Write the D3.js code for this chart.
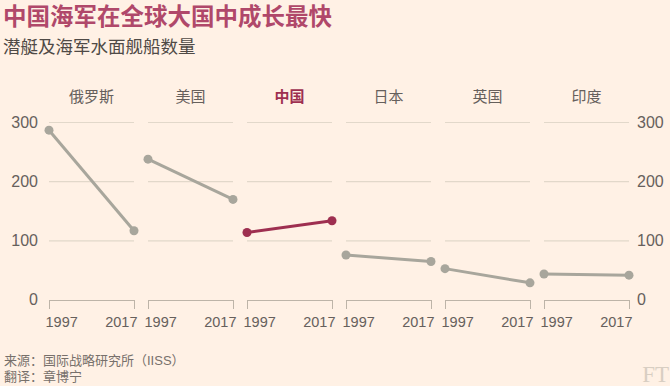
<!DOCTYPE html>
<html><head><meta charset="utf-8">
<script src="https://cdn.jsdelivr.net/npm/d3@7"></script>
<style>
html,body{margin:0;padding:0;background:#fff1e5;}
text{font-family:"Liberation Sans","Noto Sans CJK SC",sans-serif;}
</style></head>
<body><svg id="c" width="670" height="386"></svg>
<script>
const countries = ["俄罗斯","美国","中国","日本","英国","印度"];
const years = [1997, 2017];
const values1997 = [287, 238, 114, 76, 53, 44];
const values2017 = [117, 170, 134, 65, 29, 42];
const yTicks = [0, 100, 200, 300];
const highlight = "中国";

const bg = "#fff1e5", grey = "#a8a69c", red = "#9e2f50", txt = "#66605c";
const svg = d3.select("#c");
svg.append("rect").attr("width",670).attr("height",386).attr("fill",bg);

svg.append("text").attr("x",3).attr("y",25).attr("font-size",23.5).attr("font-weight","bold")
  .attr("fill","#b0486a").text("中国海军在全球大国中成长最快");
svg.append("text").attr("x",3).attr("y",53).attr("font-size",17.5).attr("fill","#4f4a46")
  .text("潜艇及海军水面舰船数量");

const xBand = d3.scaleBand().domain(countries).range([49,629]).paddingInner(14/99).paddingOuter(0);
const xIn = d3.scalePoint().domain(years).range([0, xBand.bandwidth()]);
const y = d3.scaleLinear().domain([0,300]).range([300,122.5]);

// y axis labels
const left = svg.append("g").attr("transform","translate(38,0)")
  .call(d3.axisLeft(y).tickValues(yTicks).tickSize(0).tickPadding(0));
const right = svg.append("g").attr("transform","translate(637,0)")
  .call(d3.axisRight(y).tickValues(yTicks).tickSize(0).tickPadding(0));
[left,right].forEach(g=>{
  g.select(".domain").remove();
  g.selectAll("text").attr("font-size",16).attr("fill",txt).attr("dy","0.3em");
});

countries.forEach((c,i)=>{
  const g = svg.append("g").attr("transform",`translate(${xBand(c)},0)`);
  const w = xBand.bandwidth();
  const isH = c===highlight;
  // gridlines
  g.selectAll("line.grid").data(yTicks.filter(t=>t>0)).enter().append("line")
    .attr("x1",0).attr("x2",w).attr("y1",d=>y(d)).attr("y2",d=>y(d))
    .attr("stroke","#e2d8ca").attr("stroke-width",1.2);
  // bottom axis bracket
  const ax = g.append("g").attr("transform",`translate(0,${y(0)})`)
    .call(d3.axisBottom(xIn).tickSize(10).tickSizeOuter(0).tickPadding(4));
  ax.select(".domain").attr("stroke","#bdb4a8");
  ax.selectAll(".tick line").attr("stroke","#bdb4a8").attr("y1",0).attr("y2",9);
  ax.selectAll(".tick text").attr("font-size",14.5).attr("fill",txt)
    .attr("text-anchor",(d,j)=>j===0?"start":"end")
    .attr("dx",(d,j)=>j===0?-4:3).attr("y",17).attr("dy","0.71em");
  // title
  g.append("text").attr("x",w/2).attr("y",102).attr("text-anchor","middle")
    .attr("font-size",15).attr("font-weight",isH?"bold":"normal")
    .attr("fill",isH?red:txt).text(c);
  // line + dots
  const pts = [[1997,values1997[i]],[2017,values2017[i]]];
  const col = isH?red:grey;
  g.append("path").datum(pts).attr("fill","none").attr("stroke",col).attr("stroke-width",3)
    .attr("d",d3.line().x(d=>xIn(d[0])).y(d=>y(d[1])));
  g.selectAll("circle").data(pts).enter().append("circle")
    .attr("cx",d=>xIn(d[0])).attr("cy",d=>y(d[1])).attr("r",4.5).attr("fill",col);
});

svg.append("text").attr("x",4).attr("y",365).attr("font-size",13).attr("fill","#77706b")
  .text("来源：国际战略研究所（IISS）");
svg.append("text").attr("x",4).attr("y",381).attr("font-size",13).attr("fill","#77706b")
  .text("翻译：章博宁");
svg.append("text").attr("x",669).attr("y",382).attr("text-anchor","end").attr("font-size",23)
  .style("font-family","'Liberation Serif', serif").attr("fill","#d8cec2").text("FT");
</script></body></html>
